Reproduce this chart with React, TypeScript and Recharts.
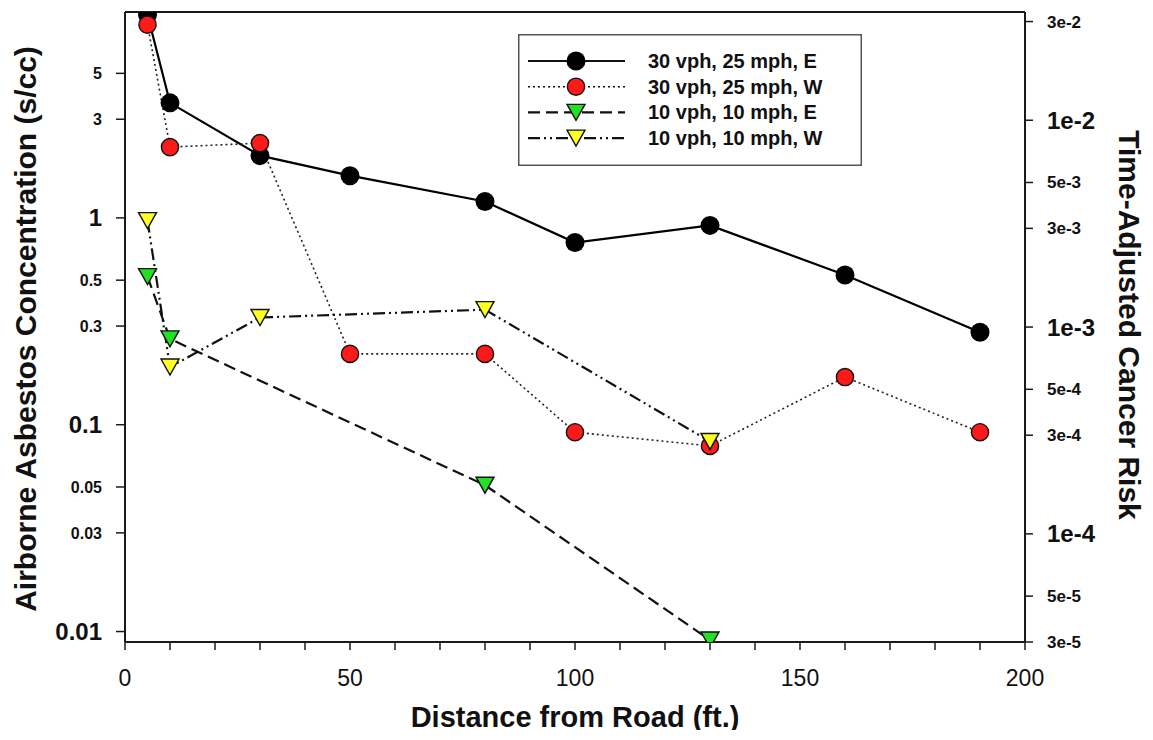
import React from 'react';
import { LineChart, Line, XAxis, YAxis, Legend, ReferenceLine, Label } from 'recharts';

// distances (ft) and concentrations (s/cc) per run
const distE30 = [5, 10, 30, 50, 80, 100, 130, 160, 190];
const concE30 = [9.6, 3.6, 2.0, 1.6, 1.2, 0.76, 0.92, 0.53, 0.28];
const distW30 = [5, 10, 30, 50, 80, 100, 130, 160, 190];
const concW30 = [8.6, 2.2, 2.3, 0.22, 0.22, 0.092, 0.079, 0.17, 0.092];
const distE10 = [5, 10, 80, 130];
const concE10 = [0.52, 0.26, 0.051, 0.0091];
const distW10 = [5, 10, 30, 80, 130];
const concW10 = [0.97, 0.19, 0.33, 0.36, 0.083];

const seriesNames = ['30 vph, 25 mph, E', '30 vph, 25 mph, W', '10 vph, 10 mph, E', '10 vph, 10 mph, W'];

const xTicks = [0, 10, 20, 30, 40, 50, 60, 70, 80, 90, 100, 110, 120, 130, 140, 150, 160, 170, 180, 190, 200];
const xLabelled = [0, 50, 100, 150, 200];
const leftTicks = [5, 3, 1, 0.5, 0.3, 0.1, 0.05, 0.03, 0.01];
const leftMajor = [1, 0.1, 0.01];
const rightTicks = [3e-2, 1e-2, 5e-3, 3e-3, 1e-3, 5e-4, 3e-4, 1e-4, 5e-5, 3e-5];
const rightTickLabels = ['3e-2', '1e-2', '5e-3', '3e-3', '1e-3', '5e-4', '3e-4', '1e-4', '5e-5', '3e-5'];
const rightMajor = ['1e-2', '1e-3', '1e-4'];

const CONC_DOMAIN = [0.0089, 9.9];
const RISK_PER_CONC = 3e-5 / 0.0089;
const RISK_DOMAIN = [CONC_DOMAIN[0] * RISK_PER_CONC, CONC_DOMAIN[1] * RISK_PER_CONC];

const toPoints = (xs: number[], ys: number[]) => xs.map((d, i) => ({ dist: d, conc: ys[i] }));

const dataE30 = toPoints(distE30, concE30);
const dataW30 = toPoints(distW30, concW30);
const dataE10 = toPoints(distE10, concE10);
const dataW10 = toPoints(distW10, concW10);

const AXIS = '#1a1a1a';
const FONT = '"Liberation Sans", Arial, sans-serif';

const triangle = (cx: number, cy: number, fill: string, key?: any) => (
  <polygon
    key={key}
    points={`${cx - 9},${cy - 8} ${cx + 9},${cy - 8} ${cx},${cy + 8}`}
    fill={fill}
    stroke="#111"
    strokeWidth={1.4}
  />
);

const blackDot = (p: any) => <circle key={`b${p.index}`} cx={p.cx} cy={p.cy} r={9.5} fill="#000" />;
const redDot = (p: any) => (
  <circle key={`r${p.index}`} cx={p.cx} cy={p.cy} r={8.6} fill="#ff1a1a" stroke="#111" strokeWidth={1.4} />
);
const greenDot = (p: any) => triangle(p.cx, p.cy, '#22e022', `g${p.index}`);
const yellowDot = (p: any) => triangle(p.cx, p.cy, '#ffff22', `y${p.index}`);

const LeftTick = ({ x, y, payload }: any) => {
  const major = leftMajor.includes(payload.value);
  return (
    <text x={x - 14} y={y} dy={major ? 8.5 : 5.7} textAnchor="end" fontSize={major ? 24 : 16} fontWeight="bold" fill="#111" fontFamily={FONT}>
      {payload.value}
    </text>
  );
};

const RightTick = ({ x, y, index }: any) => {
  const label = rightTickLabels[index];
  const major = rightMajor.includes(label);
  return (
    <text x={x + 14} y={y} dy={major ? 8.5 : 6} textAnchor="start" fontSize={major ? 24 : 17} fontWeight="bold" fill="#111" fontFamily={FONT}>
      {label}
    </text>
  );
};

const BottomTick = ({ x, y, payload }: any) => {
  if (!xLabelled.includes(payload.value)) return null;
  return (
    <text x={x} y={y} dy={36} textAnchor="middle" fontSize={23} fill="#111" fontFamily={FONT}>
      {payload.value}
    </text>
  );
};

const legendRows = [
  { dash: undefined, width: 2.2, marker: 'black' },
  { dash: '2 3', width: 1.6, marker: 'red' },
  { dash: '12 6', width: 2.2, marker: 'green' },
  { dash: '12 4 2 4 2 4', width: 2.2, marker: 'yellow' },
];

const LegendBox = () => (
  <svg width={344} height={132}>
    <rect x={0.75} y={0.75} width={342.5} height={130.5} fill="#fff" stroke="#555" strokeWidth={1.5} />
    {legendRows.map((row, i) => {
      const cy = 27 + i * 25.7;
      return (
        <g key={i}>
          <line x1={10} x2={107} y1={cy} y2={cy} stroke="#111" strokeWidth={row.width} strokeDasharray={row.dash} />
          {row.marker === 'black' && <circle cx={58} cy={cy} r={9.5} fill="#000" />}
          {row.marker === 'red' && <circle cx={58} cy={cy} r={8.6} fill="#ff1a1a" stroke="#111" strokeWidth={1.4} />}
          {row.marker === 'green' && triangle(58, cy, '#22e022')}
          {row.marker === 'yellow' && triangle(58, cy, '#ffff22')}
          <text x={130} y={cy + 7} fontSize={20} fontWeight="bold" fill="#111" fontFamily={FONT}>
            {seriesNames[i]}
          </text>
        </g>
      );
    })}
  </svg>
);

const App: React.FC = () => {
  return (
    <div style={{ width: 1145, height: 730, marginBottom: -8, background: '#fff', fontFamily: FONT }}>
      <LineChart width={1145} height={730} margin={{ top: 4, right: 0, bottom: 0, left: 0 }}>
        <XAxis
          dataKey="dist"
          type="number"
          domain={[0, 200]}
          ticks={xTicks}
          interval={0}
          tick={<BottomTick />}
          tickSize={8}
          tickMargin={0}
          height={96}
          axisLine={{ stroke: AXIS, strokeWidth: 2 }}
          tickLine={{ stroke: AXIS, strokeWidth: 1.5 }}
          allowDataOverflow
        >
          <Label
            content={() => (
              <text x={567} y={719} textAnchor="middle" fontSize={29} fontWeight="bold" fill="#111" fontFamily={FONT}>
                Distance from Road (ft.)
              </text>
            )}
          />
        </XAxis>
        <YAxis
          yAxisId="left"
          scale="log"
          domain={CONC_DOMAIN}
          ticks={leftTicks}
          interval={0}
          allowDataOverflow
          width={117}
          tickSize={9}
          tickMargin={0}
          tick={<LeftTick />}
          axisLine={{ stroke: AXIS, strokeWidth: 2 }}
          tickLine={{ stroke: AXIS, strokeWidth: 1.5 }}
        >
          <Label
            content={() => (
              <text
                transform="translate(28, 321) rotate(-90)"
                textAnchor="middle"
                fontSize={30}
                fontWeight="bold"
                fill="#111"
                fontFamily={FONT}
              >
                Airborne Asbestos Concentration (s/cc)
              </text>
            )}
          />
        </YAxis>
        <YAxis
          yAxisId="right"
          orientation="right"
          scale="log"
          domain={RISK_DOMAIN}
          ticks={rightTicks}
          interval={0}
          allowDataOverflow
          width={128}
          tickSize={8}
          tickMargin={0}
          tick={<RightTick />}
          axisLine={{ stroke: AXIS, strokeWidth: 2 }}
          tickLine={{ stroke: AXIS, strokeWidth: 1.5 }}
        >
          <Label
            content={() => (
              <text
                transform="translate(1111, 317) rotate(90)"
                textAnchor="middle"
                fontSize={30}
                fontWeight="bold"
                fill="#111"
                fontFamily={FONT}
              >
                Time-Adjusted Cancer Risk
              </text>
            )}
          />
        </YAxis>
        <ReferenceLine yAxisId="left" y={CONC_DOMAIN[1]} stroke={AXIS} strokeWidth={2} />
        <Line
          yAxisId="left"
          data={dataE30}
          dataKey="conc"
          name={seriesNames[0]}
          type="linear"
          stroke="#000"
          strokeWidth={2.2}
          dot={blackDot}
          isAnimationActive={false}
        />
        <Line
          yAxisId="left"
          data={dataW30}
          dataKey="conc"
          name={seriesNames[1]}
          type="linear"
          stroke="#222"
          strokeWidth={1.6}
          strokeDasharray="2 3"
          dot={redDot}
          isAnimationActive={false}
        />
        <Line
          yAxisId="left"
          data={dataE10}
          dataKey="conc"
          name={seriesNames[2]}
          type="linear"
          stroke="#111"
          strokeWidth={2.2}
          strokeDasharray="12 6"
          dot={greenDot}
          isAnimationActive={false}
        />
        <Line
          yAxisId="left"
          data={dataW10}
          dataKey="conc"
          name={seriesNames[3]}
          type="linear"
          stroke="#111"
          strokeWidth={2.2}
          strokeDasharray="12 4 2 4 2 4"
          dot={yellowDot}
          isAnimationActive={false}
        />
        <Legend
          layout="vertical"
          align="center"
          verticalAlign="middle"
          content={() => <LegendBox />}
          wrapperStyle={{ left: 510, top: 26, width: 344, height: 132 }}
        />
      </LineChart>
    </div>
  );
};

export default App;
